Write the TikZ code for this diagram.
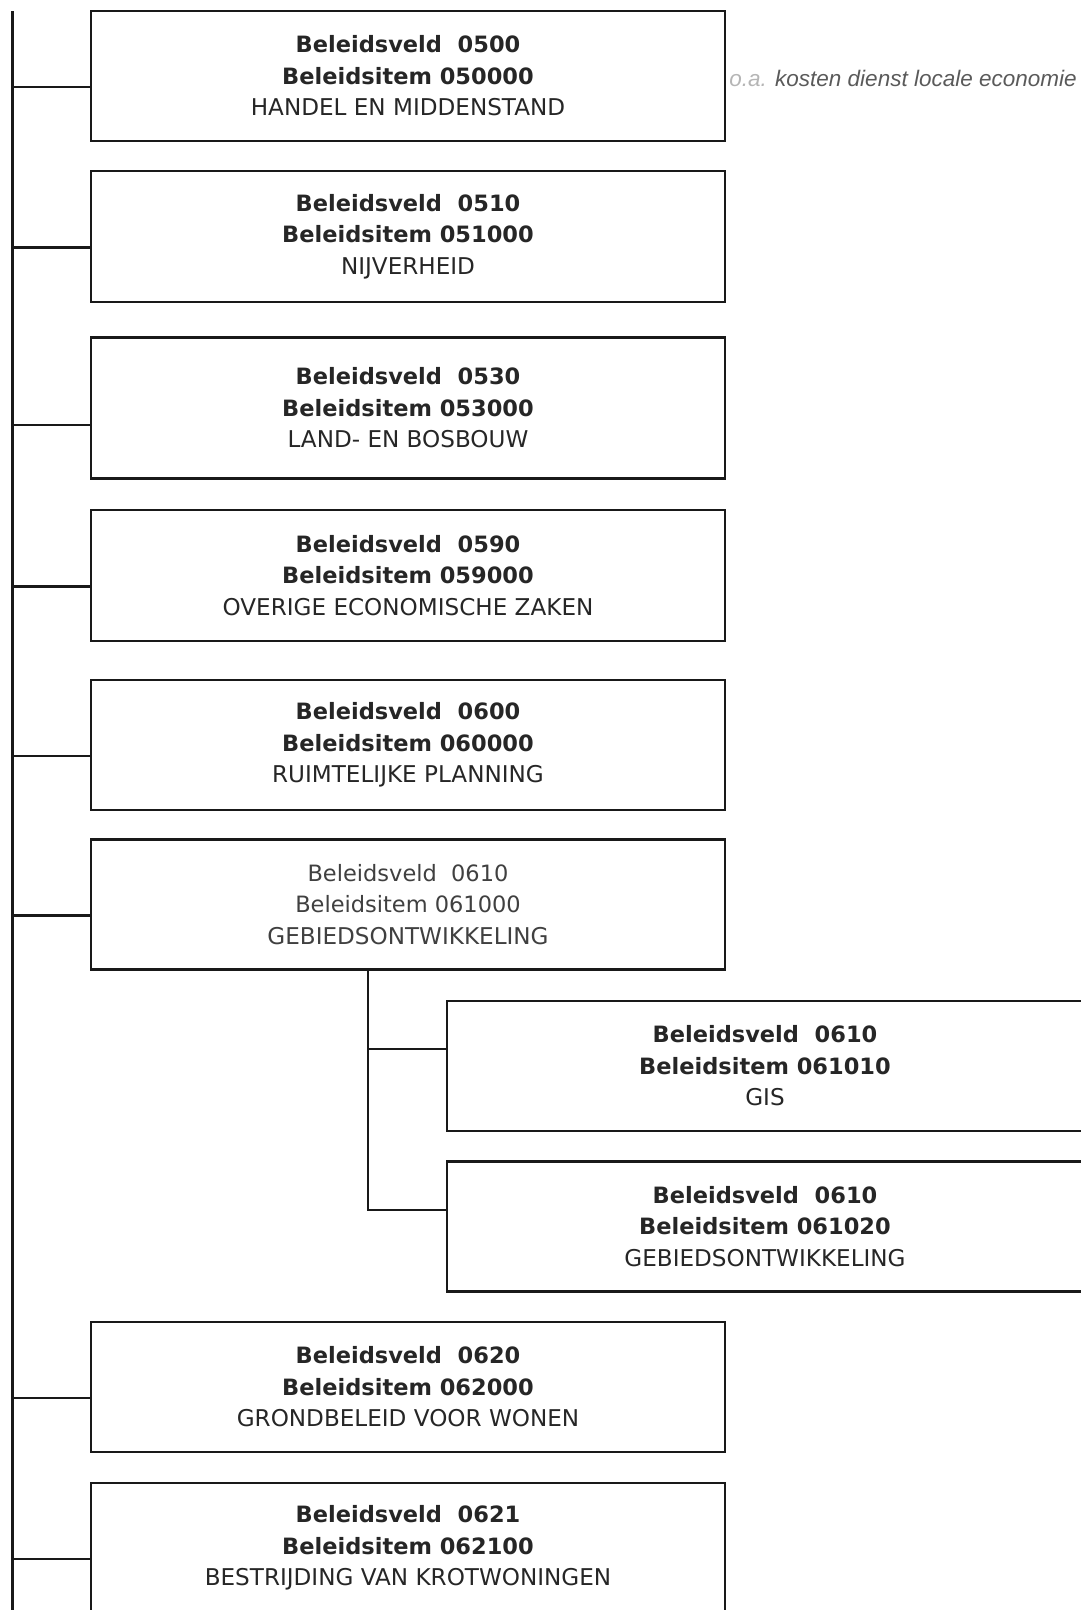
\documentclass[tikz,border=0pt]{standalone}
\usepackage{fontspec}
\setmainfont{DejaVu Sans}
\newfontfamily\notefont{Liberation Sans}
\usetikzlibrary{positioning}
\definecolor{boxtext}{HTML}{262626}
\definecolor{lighttext}{HTML}{404040}
\definecolor{notegrey}{HTML}{5A5A5A}
\newcommand{\titelfont}{\fontsize{23.1}{31.5}\selectfont}
\tikzset{
    veldbox/.style={draw=black!90, line width=2.3pt, minimum width=634pt, minimum height=130pt,
        inner sep=0pt, align=center, text=boxtext, font=\fontsize{22.5}{31.5}\selectfont},
    tak/.style={draw=black!90, line width=2.3pt}
}

\begin{document}
\begin{tikzpicture}[x=1pt, y=-1pt]
        \useasboundingbox (0,0) rectangle (1081,1610);
        \clip (0,0) rectangle (1081,1610);
        \foreach \n/\y/\h/\veld/\code/\titel in {
            b1/76/130/0500/050000/HANDEL EN MIDDENSTAND,
            b2/236.5/131/0510/051000/NIJVERHEID,
            b3/408/141/0530/053000/LAND- EN BOSBOUW,
            b4/575.5/131/0590/059000/OVERIGE ECONOMISCHE ZAKEN,
            b5/745/130/0600/060000/RUIMTELIJKE PLANNING,
            b7/1387/130/0620/062000/GRONDBELEID VOOR WONEN,
            b8/1548/130/0621/062100/BESTRIJDING VAN KROTWONINGEN} {
            \node[veldbox, minimum height=\h pt] (\n) at (408,\y)
                {\textbf{Beleidsveld\ \ \veld}\\\textbf{Beleidsitem \code}\\\titelfont\titel};
        }
        \node[veldbox, text=lighttext] (b6) at (408,904.5)
            {Beleidsveld\ \ 0610\\Beleidsitem 061000\\\titelfont GEBIEDSONTWIKKELING};
        \node[veldbox, minimum width=636pt] (s1) at (765,1066)
            {\textbf{Beleidsveld\ \ 0610}\\\textbf{Beleidsitem 061010}\\\titelfont GIS};
        \node[veldbox, minimum width=636pt] (s2) at (765,1226.5)
            {\textbf{Beleidsveld\ \ 0610}\\\textbf{Beleidsitem 061020}\\\titelfont GEBIEDSONTWIKKELING};
        \node[right=3pt of b1, yshift=-2pt, inner sep=0pt, text=notegrey,
            font=\notefont\itshape\fontsize{22.5}{27}\selectfont] (note)
            {\textcolor{notegrey!45}{o.a.} kosten dienst locale economie};
        \coordinate (trunk) at (12.5,11);
        \coordinate (trunkend) at (12.5,1620);
        \coordinate (fork) at (368,0);
        \draw[tak] (trunk) -- (trunkend);
        \foreach \n/\a in {b1/182.5, b2/182.8, b3/183.7, b4/182.6, b5/182.5, b6/182.8, b7/182.7, b8/182.7} {
            \draw[tak] (\n.\a) -- (\n.\a -| trunk);
        }
        \draw[tak] (b6.south -| fork) -- (s2.177.3 -| fork) -- (s2.177.3);
        \draw[tak] (s1.177.1 -| fork) -- (s1.177.1);
    \end{tikzpicture}
\end{document}
